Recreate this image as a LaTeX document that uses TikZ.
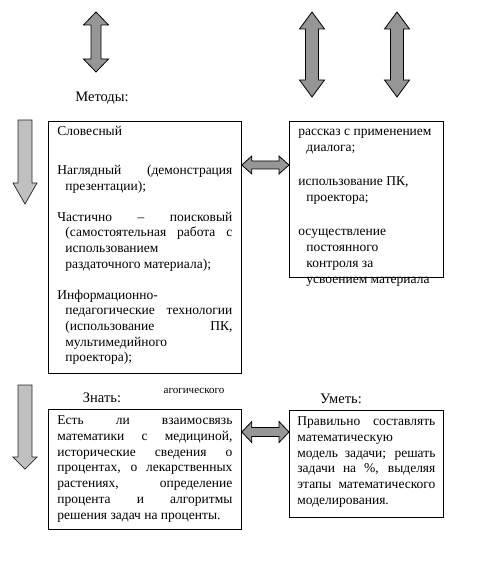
\documentclass[tikz,border=0pt]{standalone}
\usepackage{fontspec}
\setmainfont{Liberation Serif}
\usetikzlibrary{calc}

\definecolor{arrowgray}{HTML}{969696}
\definecolor{lightarrow}{HTML}{C0C0C0}

\newcommand\bodyfont{\fontsize{13.5}{15.6}\selectfont}
\newcommand\labelfont{\fontsize{14.5}{16}\selectfont}
\newcommand\smallfont{\fontsize{11}{13}\selectfont}
\newlength\hangin \setlength\hangin{8pt}
\newlength\padin \setlength\padin{9pt}

% one line of a panel: justified (\jl) or ragged (\rl)
\newcommand\jl[2][0pt]{\hbox to \hsize{\vrule height 11pt depth 4pt width 0pt\hskip\padin\hskip#1\relax #2\hskip\padin}}
\newcommand\rl[2][0pt]{\hbox to \hsize{\vrule height 11pt depth 4pt width 0pt\hskip\padin\hskip#1\relax #2\hfil}}
% panel body of fixed size: width, height, line step, lines
\newcommand\panelbody[4]{\vbox to #2{\hsize=#1\bodyfont\baselineskip=#3\lineskiplimit=-50pt #4\vfil}}

% vertical double block arrow: x, y top, y bottom, head half width, shaft half width, head length
\newcommand\vdouble[6]{%
  \draw[blockarrow] (#1,#2) -- (#1+#4,#2+#6) -- (#1+#5,#2+#6) -- (#1+#5,#3-#6) -- (#1+#4,#3-#6)
    -- (#1,#3) -- (#1-#4,#3-#6) -- (#1-#5,#3-#6) -- (#1-#5,#2+#6) -- (#1-#4,#2+#6) -- cycle;}
% downward block arrow: x, y top, y head, y tip, head half width, shaft half width
\newcommand\vdown[6]{%
  \draw[downarrow] (#1-#6,#2) -- (#1+#6,#2) -- (#1+#6,#3) -- (#1+#5,#3) -- (#1,#4)
    -- (#1-#5,#3) -- (#1-#6,#3) -- cycle;}
% horizontal double block arrow between two named points: from, to, head half, shaft half, head length
\newcommand\hdouble[5]{%
  \draw[blockarrow] (#1) -- ($(#1)+(#5,-#3)$) -- ($(#1)+(#5,-#4)$) -- ($(#2)+(-#5,-#4)$) -- ($(#2)+(-#5,-#3)$)
    -- (#2) -- ($(#2)+(-#5,#3)$) -- ($(#2)+(-#5,#4)$) -- ($(#1)+(#5,#4)$) -- ($(#1)+(#5,#3)$) -- cycle;}

\begin{document}
\begin{tikzpicture}[x=1pt,y=-1pt,
    panel/.style={draw, line width=0.8pt, inner sep=0pt, anchor=north west},
    blockarrow/.style={draw, line width=0.8pt, fill=arrowgray, line join=miter},
    downarrow/.style={draw=black!85, line width=0.7pt, fill=lightarrow, line join=miter},
    caption/.style={font=\labelfont, inner sep=0pt}]
    \useasboundingbox (0,0) rectangle (481,577);

    % top arrows
    \vdouble{96}{12}{72}{12.5}{5}{13}
    \vdouble{312}{12}{97}{12.5}{6.5}{17}
    \vdouble{397}{12}{97}{12.5}{6.5}{17}

    \node[caption] (methodslabel) at (102,98) {Методы:};

    % methods
    \node[panel] (methods) at (48,121) {\panelbody{193pt}{252pt}{15.6pt}{%
        \vskip3pt
        \rl{Словесный}
        \vskip23.4pt
        \jl{Наглядный (демонстрация}
        \rl[\hangin]{презентации);}
        \vskip15.6pt
        \jl{Частично – поисковый}
        \jl[\hangin]{(самостоятельная работа с}
        \rl[\hangin]{использованием}
        \rl[\hangin]{раздаточного материала);}
        \vskip15.6pt
        \rl{Информационно-}
        \jl[\hangin]{педагогические технологии}
        \jl[\hangin]{(использование ПК,}
        \rl[\hangin]{мультимедийного}
        \rl[\hangin]{проектора);}}};

    \node[panel] (tools) at (289,121) {\panelbody{154pt}{156pt}{16pt}{%
        \vskip3pt
        \rl{рассказ с применением}
        \rl[\hangin]{диалога;}
        \vskip18.5pt
        \rl{использование ПК,}
        \rl[\hangin]{проектора;}
        \vskip18pt
        \rl{осуществление}
        \rl[\hangin]{постоянного}
        \rl[\hangin]{контроля за}
        \rl[\hangin]{усвоением материала}}};

    \vdown{25}{120}{183}{204}{12}{7}

    % know / can
    \node[caption] (knowlabel) at (102,398) {Знать:};
    \node[font=\smallfont, inner sep=0pt] (pedlabel) at (194,391) {агогического};
    \node[caption] (canlabel) at (341,399) {Уметь:};

    \node[panel] (know) at (48,409) {\panelbody{193pt}{120pt}{15.8pt}{%
        \vskip4pt
        \jl{Есть ли взаимосвязь}
        \jl{математики с медициной,}
        \jl{исторические сведения о}
        \jl{процентах, о лекарственных}
        \jl{растениях, определение}
        \jl{процента и алгоритмы}
        \rl{решения задач на проценты.}}};

    \setlength\padin{8pt}
    \node[panel] (can) at (289,410) {\panelbody{154pt}{107pt}{15.8pt}{%
        \vskip4pt
        \jl{Правильно составлять}
        \rl{математическую}
        \jl{модель задачи; решать}
        \jl{задачи на \%, выделяя}
        \jl{этапы математического}
        \rl{моделирования.}}};

    \vdown{25}{385}{457}{469}{12}{7}

    % links between panels
    \coordinate (link1a) at ([yshift=-44pt]methods.north east);
    \coordinate (link1b) at (link1a -| tools.west);
    \hdouble{link1a}{link1b}{9}{4}{10}
    \coordinate (link2a) at ([yshift=-23pt]know.north east);
    \coordinate (link2b) at (link2a -| can.west);
    \hdouble{link2a}{link2b}{10.5}{4.5}{10}
\end{tikzpicture}
\end{document}
